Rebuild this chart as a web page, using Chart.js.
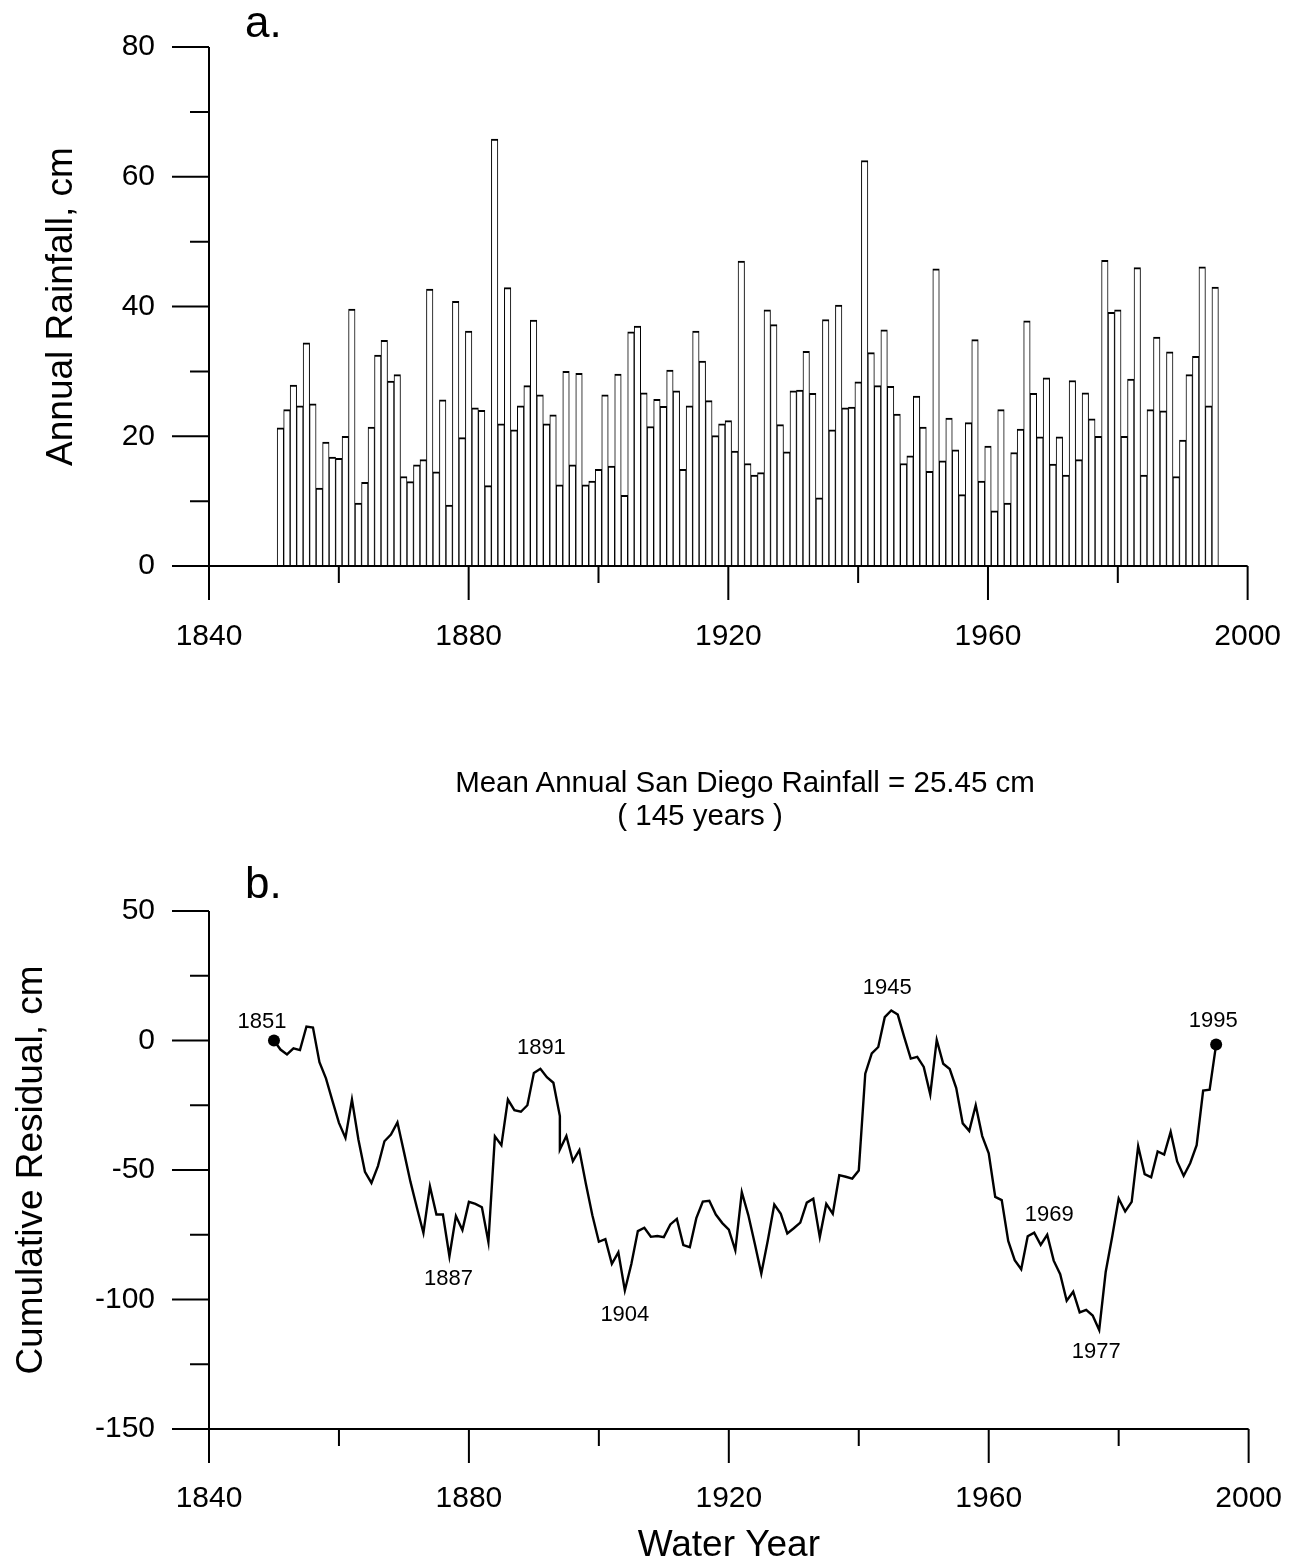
<!DOCTYPE html>
<html>
<head>
<meta charset="utf-8">
<script src="https://cdn.jsdelivr.net/npm/chart.js@4.4.1/dist/chart.umd.min.js"></script>
<style>
  html, body { margin: 0; padding: 0; background: #fff; }
  #wrap { position: relative; width: 1300px; height: 1562px; overflow: hidden; background: #fff;
          font-family: "Liberation Sans", Arial, Helvetica, sans-serif; color: #000; }
  canvas { position: absolute; left: 0; }
  #ca { top: 0; width: 1300px; height: 700px; }
  #cb { top: 700px; width: 1300px; height: 862px; }
  .txt { position: absolute; white-space: nowrap; line-height: 1; }
  .ctr { transform: translateX(-50%); }
</style>
</head>
<body>
<div id="wrap">
  <canvas id="ca" width="1300" height="700"></canvas>
  <canvas id="cb" width="1300" height="862"></canvas>
  <div class="txt" style="left:245px; top:0px; font-size:44px;">a.</div>
  <div class="txt" style="left:245px; top:861px; font-size:44px;">b.</div>
  <div class="txt ctr" style="left:745px; top:767px; font-size:29.5px;">Mean Annual San Diego Rainfall = 25.45 cm</div>
  <div class="txt ctr" style="left:700px; top:800px; font-size:29.5px;">( 145 years )</div>
</div>
<script>
// ---------------- DATA ----------------
const firstYear = 1851;
// Annual rainfall (cm), water years 1851 - 1995
const rainfall = [
  21.3, 24.1, 27.9, 24.7, 34.4, 25.0, 12.0, 19.1, 16.8, 16.6,
  20.0, 39.6,  9.7, 12.9, 21.4, 32.5, 34.8, 28.5, 29.5, 13.8,
  13.0, 15.6, 16.4, 42.7, 14.5, 25.6,  9.4, 40.8, 19.8, 36.2,
  24.4, 24.0, 12.4, 65.8, 21.9, 42.9, 21.0, 24.7, 27.8, 37.9,
  26.4, 21.9, 23.3, 12.5, 30.0, 15.6, 29.7, 12.5, 13.1, 14.9,
  26.4, 15.4, 29.6, 10.9, 36.1, 37.0, 26.7, 21.5, 25.7, 24.6,
  30.2, 27.0, 14.9, 24.7, 36.2, 31.6, 25.5, 20.1, 21.9, 22.4,
  17.7, 47.0, 15.8, 14.0, 14.4, 39.5, 37.2, 21.8, 17.6, 27.0,
  27.1, 33.1, 26.6, 10.5, 38.0, 21.0, 40.2, 24.4, 24.5, 28.4,
  62.5, 32.9, 27.8, 36.4, 27.7, 23.4, 15.8, 17.0, 26.2, 21.4,
  14.6, 45.8, 16.2, 22.8, 17.9, 11.0, 22.1, 34.9, 13.1, 18.5,
   8.5, 24.1,  9.7, 17.5, 21.1, 37.8, 26.6, 19.9, 29.0, 15.7,
  19.9, 14.0, 28.6, 16.4, 26.7, 22.7, 20.0, 47.1, 39.1, 39.5,
  20.0, 28.8, 46.0, 14.0, 24.1, 35.3, 23.9, 33.0, 13.8, 19.4,
  29.5, 32.3, 46.1, 24.7, 43.0
];
const rainYears = rainfall.map((_, i) => firstYear + i);

// Cumulative residual (cm) (1894 appears twice in the plotted line)
const residualYears = [
  1850, 1851, 1852, 1853, 1854, 1855, 1856, 1857, 1858, 1859,
  1860, 1861, 1862, 1863, 1864, 1865, 1866, 1867, 1868, 1869,
  1870, 1871, 1872, 1873, 1874, 1875, 1876, 1877, 1878, 1879,
  1880, 1881, 1882, 1883, 1884, 1885, 1886, 1887, 1888, 1889,
  1890, 1891, 1892, 1893, 1894, 1894, 1895, 1896, 1897, 1898, 1899,
  1900, 1901, 1902, 1903, 1904, 1905, 1906, 1907, 1908, 1909,
  1910, 1911, 1912, 1913, 1914, 1915, 1916, 1917, 1918, 1919,
  1920, 1921, 1922, 1923, 1924, 1925, 1926, 1927, 1928, 1929,
  1930, 1931, 1932, 1933, 1934, 1935, 1936, 1937, 1938, 1939,
  1940, 1941, 1942, 1943, 1944, 1945, 1946, 1947, 1948, 1949,
  1950, 1951, 1952, 1953, 1954, 1955, 1956, 1957, 1958, 1959,
  1960, 1961, 1962, 1963, 1964, 1965, 1966, 1967, 1968, 1969,
  1970, 1971, 1972, 1973, 1974, 1975, 1976, 1977, 1978, 1979,
  1980, 1981, 1982, 1983, 1984, 1985, 1986, 1987, 1988, 1989,
  1990, 1991, 1992, 1993, 1994, 1995
];
const residuals = [
     0.0,  -3.5,  -5.4,  -3.0,  -3.7,   5.4,   5.0,  -8.4, -14.6, -23.3,
   -31.8, -37.6, -22.8, -38.3, -50.7, -55.0, -48.5, -38.9, -36.3, -31.6,
   -43.0, -54.5, -64.6, -74.3, -56.3, -67.2, -67.2, -83.3, -67.8, -73.2,
   -62.3, -63.1, -64.4, -77.8, -37.0, -40.4, -22.8, -26.9, -27.5, -25.0,
   -12.5, -10.9, -14.2, -16.3, -29.2, -42.1, -36.9, -46.6, -42.3, -55.3, -67.5,
   -77.7, -76.7, -86.2, -81.8, -96.5, -86.3, -73.6, -72.3, -75.8, -75.5,
   -75.9, -71.0, -68.9, -79.0, -79.8, -68.6, -62.2, -61.9, -67.2, -70.5,
   -73.0, -81.0, -58.6, -67.4, -78.5, -90.0, -77.2, -63.3, -66.9, -74.5,
   -72.5, -70.3, -62.6, -61.1, -75.9, -63.1, -66.9, -52.0, -52.6, -53.3,
   -50.2, -12.8,  -5.0,  -2.5,   9.0,  11.6,  10.0,   1.3,  -7.0,  -6.3,
   -10.2, -20.8,   0.2,  -9.0, -11.0, -18.4, -32.0, -34.9, -25.0, -36.9,
   -43.6, -60.4, -61.6, -77.4, -84.8, -88.3, -75.6, -74.2, -78.9, -75.0,
   -85.0, -90.2,-100.5, -97.0,-105.0,-104.0,-106.2,-111.8, -89.4, -75.8,
   -61.0, -66.0, -62.3, -40.8, -51.6, -52.8, -42.8, -44.0, -35.3, -46.7,
   -52.2, -47.4, -40.4, -19.3, -19.0,  -1.5
];

// Annotated years on panel b
const annotationLabels = ['1851', '1887', '1891', '1904', '1945', '1969', '1977', '1995'];
const annotationYears  = [1850, 1877, 1891, 1904, 1945, 1969, 1977, 1995];

// Axis tick values
const yTicksA = [0, 20, 40, 60, 80];
const yTicksB = [-150, -100, -50, 0, 50];
const xTickLabels = [1840, 1880, 1920, 1960, 2000];

// ---------------- STYLE ----------------
const FONT = '"Liberation Sans", Arial, Helvetica, sans-serif';
const INK = '#000';
// label offsets (px) relative to the annotated point
const annotationOffsets = {
  '1851': [-12, -19], '1887': [-1, 23], '1891': [1, -21], '1904': [0, 25],
  '1945': [-4, -23], '1969': [2, -20], '1977': [-3, 22], '1995': [-3, -23]
};

// draws axis lines and major/minor tick marks through the chart scales
const axisFrame = {
  id: 'axisFrame',
  afterDraw(chart, args, o) {
    const ctx = chart.ctx, xs = chart.scales.x, ys = chart.scales.y;
    const left = xs.getPixelForValue(xs.min), right = xs.getPixelForValue(xs.max);
    const top = ys.getPixelForValue(ys.max);
    const base = ys.getPixelForValue(o.baseValue);
    ctx.save();
    ctx.strokeStyle = INK; ctx.lineWidth = 2; ctx.lineCap = 'butt';
    ctx.beginPath();
    ctx.moveTo(left, top); ctx.lineTo(left, base + o.xMajorLen);
    ctx.moveTo(left, base); ctx.lineTo(right, base);
    for (let v = ys.min; v <= ys.max + 1e-9; v += o.yMinorStep) {
      const py = ys.getPixelForValue(v);
      const major = Math.abs(v / o.yMajorStep - Math.round(v / o.yMajorStep)) < 1e-6;
      ctx.moveTo(left, py); ctx.lineTo(left - (major ? o.yMajorLen : o.yMinorLen), py);
    }
    for (let v = xs.min + o.xMinorStep; v <= xs.max + 1e-9; v += o.xMinorStep) {
      const px = xs.getPixelForValue(v);
      const major = Math.abs(((v - xs.min) / o.xMajorStep) - Math.round((v - xs.min) / o.xMajorStep)) < 1e-6;
      ctx.moveTo(px, base); ctx.lineTo(px, base + (major ? o.xMajorLen : o.xMinorLen));
    }
    ctx.stroke();
    ctx.restore();
  }
};

// year labels next to the cumulative residual curve
const yearLabels = {
  id: 'yearLabels',
  afterDatasetsDraw(chart) {
    if (!chart.options.plugins.yearLabels || !chart.options.plugins.yearLabels.enabled) return;
    const ctx = chart.ctx, xs = chart.scales.x, ys = chart.scales.y;
    ctx.save();
    ctx.fillStyle = '#000';
    ctx.font = '22px ' + FONT;
    ctx.textAlign = 'center';
    ctx.textBaseline = 'middle';
    annotationLabels.forEach((lab, i) => {
      const yr = annotationYears[i];
      const idx = residualYears.lastIndexOf(yr);
      const val = residuals[idx];
      const off = annotationOffsets[lab];
      ctx.fillText(lab, xs.getPixelForValue(yr) + off[0], ys.getPixelForValue(val) + off[1]);
    });
    ctx.restore();
  }
};

function xScale(heightPx, labelPad, title) {
  return {
    type: 'linear', min: 1840, max: 2000, offset: false,
    afterFit(s) { s.height = heightPx; },
    afterBuildTicks(s) { s.ticks = xTickLabels.map(v => ({ value: v })); },
    grid: { display: false, drawTicks: true, tickLength: 34 },
    border: { display: false },
    ticks: { color: '#000', font: { family: FONT, size: 30 }, padding: labelPad,
             maxRotation: 0, autoSkip: false, callback: v => String(v) },
    title: title
  };
}
function yScale(min, max, tickVals, titleText, titlePad) {
  return {
    type: 'linear', min: min, max: max,
    afterFit(s) { s.width = 209; },
    afterBuildTicks(s) { s.ticks = tickVals.map(v => ({ value: v })); },
    grid: { display: false, drawTicks: true, tickLength: 37 },
    border: { display: false },
    ticks: { color: '#000', font: { family: FONT, size: 30 }, padding: 17,
             callback: v => String(v) },
    title: { display: true, text: titleText, color: '#000',
             font: { family: FONT, size: 37 }, padding: { top: titlePad, bottom: 0 } }
  };
}

// ---------------- PANEL a ----------------
new Chart(document.getElementById('ca'), {
  type: 'bar',
  data: {
    datasets: [{
      data: rainYears.map((yr, i) => ({ x: yr, y: rainfall[i] })),
      backgroundColor: '#ffffff',
      borderColor: INK,
      borderWidth: { top: 2, left: 1, right: 1, bottom: 0 },
      borderSkipped: 'bottom',
      barPercentage: 1.0,
      categoryPercentage: 1.0,
      grouped: false
    }]
  },
  options: {
    responsive: false, animation: false, events: [],
    layout: { padding: { left: 0, top: 47, right: 49, bottom: 0 } },
    scales: {
      x: xScale(134, 19, { display: false }),
      y: yScale(0, 80, yTicksA, 'Annual Rainfall, cm', 40)
    },
    plugins: {
      legend: { display: false }, tooltip: { enabled: false },
      axisFrame: { baseValue: 0, yMinorStep: 10, yMajorStep: 20, yMajorLen: 37, yMinorLen: 19,
                   xMinorStep: 20, xMajorStep: 40, xMajorLen: 34, xMinorLen: 17 }
    }
  },
  plugins: [axisFrame]
});

// ---------------- PANEL b ----------------
new Chart(document.getElementById('cb'), {
  type: 'line',
  data: {
    datasets: [{
      data: residualYears.map((yr, i) => ({ x: yr, y: residuals[i] })),
      borderColor: INK,
      borderWidth: 2.4,
      tension: 0,
      fill: false,
      clip: false,
      pointRadius: c => (c.dataIndex === 0 || c.dataIndex === residuals.length - 1) ? 6 : 0,
      pointBackgroundColor: '#000',
      pointBorderColor: '#000',
      pointBorderWidth: 0
    }]
  },
  options: {
    responsive: false, animation: false, events: [],
    layout: { padding: { left: 0, top: 211, right: 49, bottom: 0 } },
    scales: {
      x: xScale(133, 18, { display: true, text: 'Water Year', color: '#000',
                           font: { family: FONT, size: 37, lineHeight: 0.9 },
                           padding: { top: 0, bottom: 0 } }),
      y: yScale(-150, 50, yTicksB, 'Cumulative Residual, cm', 10)
    },
    plugins: {
      legend: { display: false }, tooltip: { enabled: false },
      yearLabels: { enabled: true },
      axisFrame: { baseValue: -150, yMinorStep: 25, yMajorStep: 50, yMajorLen: 37, yMinorLen: 19,
                   xMinorStep: 20, xMajorStep: 40, xMajorLen: 34, xMinorLen: 17 }
    }
  },
  plugins: [axisFrame, yearLabels]
});
</script>
</body>
</html>
